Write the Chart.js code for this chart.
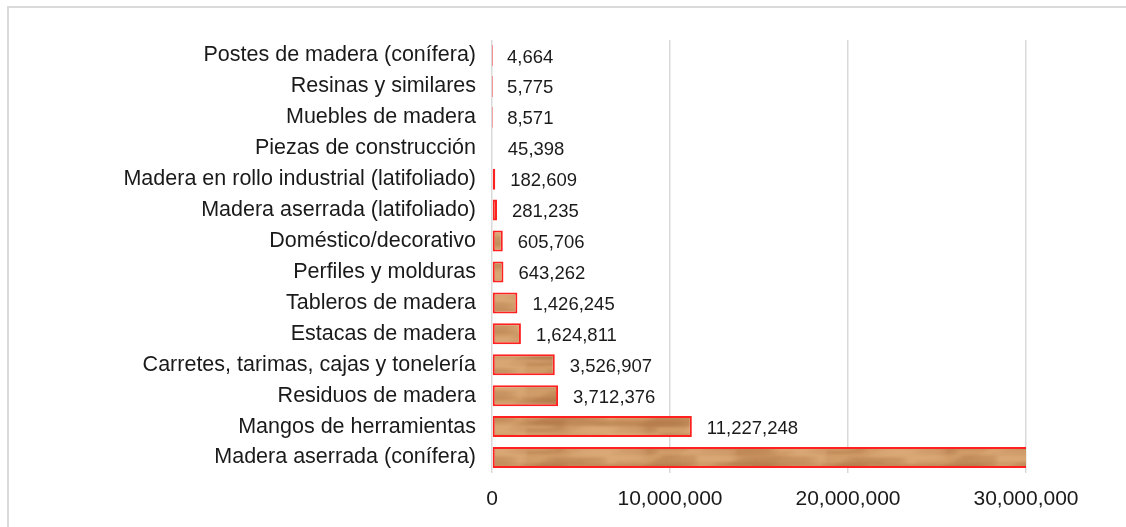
<!DOCTYPE html>
<html>
<head>
<meta charset="utf-8">
<script src="https://cdn.jsdelivr.net/npm/chart.js@4"></script>
<style>
  html, body { margin: 0; padding: 0; background: #fff; overflow: hidden; }
  #frame { position: absolute; left: 7px; top: 6px; width: 1200px; height: 600px; border: 2px solid #dadada; }
  #wrap { position: absolute; left: 0; top: 0; width: 1126px; height: 527px; }
</style>
</head>
<body>
<div id="frame"></div>
<div id="wrap"><canvas id="woodChart"></canvas></div>
<script>
const categories = [
    'Postes de madera (conífera)',
    'Resinas y similares',
    'Muebles de madera',
    'Piezas de construcción',
    'Madera en rollo industrial (latifoliado)',
    'Madera aserrada (latifoliado)',
    'Doméstico/decorativo',
    'Perfiles y molduras',
    'Tableros de madera',
    'Estacas de madera',
    'Carretes, tarimas, cajas y tonelería',
    'Residuos de madera',
    'Mangos de herramientas',
    'Madera aserrada (conífera)'
];
// the last bar runs past the axis end in the picture, its label is not shown
const values = [4664, 5775, 8571, 45398, 182609, 281235, 605706, 643262,
    1426245, 1624811, 3526907, 3712376, 11227248, 32500000];
const xTicks = [0, 10000000, 20000000, 30000000];

const textColor = '#1a1a1a';
const gridColor = '#d9d9d9';
const fontName = '"Liberation Sans", Arial, sans-serif';

// soft wood grain fill: blurred, stretched blotches (wrapped so the tile has no seam)
function woodPattern() {
    const c = document.createElement('canvas');
    c.width = 300; c.height = 22;
    const g = c.getContext('2d');
    g.fillStyle = '#d09c68';
    g.fillRect(0, 0, c.width, c.height);
    g.filter = 'blur(1.5px)';
    for (let k = 0; k < 40; k++) {
        const x = (k * 67) % c.width;
        const y = (k * 7) % c.height;
        const w = 18 + (k * 13) % 30;
        const dark = k % 3 !== 0;
        g.fillStyle = dark ? 'rgba(160, 100, 55, 0.35)' : 'rgba(232, 185, 135, 0.5)';
        for (const dx of [-c.width, 0, c.width]) {
            for (const dy of [-c.height, 0, c.height]) {
                g.beginPath();
                g.ellipse(x + dx, y + dy, w, 1.6, 0, 0, Math.PI * 2);
                g.fill();
            }
        }
    }
    return g.createPattern(c, 'repeat');
}

const valueLabels = {
    id: 'valueLabels',
    afterDatasetsDraw(chart) {
        const ctx = chart.ctx;
        const xs = chart.scales.x;
        const meta = chart.getDatasetMeta(0);
        ctx.save();
        ctx.font = '18.5px ' + fontName;
        ctx.fillStyle = textColor;
        ctx.textAlign = 'left';
        ctx.textBaseline = 'middle';
        meta.data.forEach((bar, i) => {
            const v = values[i];
            if (v > xs.max) return;
            ctx.fillText(v.toLocaleString('en-US'), bar.x + 15, bar.y + 2);
        });
        ctx.restore();
    }
};

new Chart(document.getElementById('woodChart'), {
    type: 'bar',
    data: {
        labels: categories,
        datasets: [{
            data: values,
            backgroundColor: woodPattern(),
            borderColor: '#ff2020',
            borderWidth: 2,
            borderSkipped: false,
            barPercentage: 0.68,
            categoryPercentage: 1
        }]
    },
    options: {
        indexAxis: 'y',
        responsive: true,
        maintainAspectRatio: false,
        animation: false,
        layout: { padding: { top: 40, right: 100, bottom: 0, left: 0 } },
        plugins: {
            legend: { display: false },
            tooltip: { enabled: false }
        },
        scales: {
            x: {
                min: 0,
                max: 30000000,
                afterBuildTicks: (s) => { s.ticks = xTicks.map(v => ({ value: v })); },
                afterFit: (s) => { s.height = 54; },
                border: { display: false },
                grid: { color: gridColor, lineWidth: 1.5, drawTicks: false },
                ticks: {
                    color: textColor,
                    padding: 14,
                    font: { family: fontName, size: 21 },
                    maxRotation: 0,
                    callback: (v) => v.toLocaleString('en-US')
                }
            },
            y: {
                afterFit: (s) => { s.width = 492; },
                border: { display: false },
                grid: { display: false, drawTicks: false },
                ticks: {
                    color: textColor,
                    padding: 16,
                    autoSkip: false,
                    font: { family: fontName, size: 21.5 }
                }
            }
        }
    },
    plugins: [valueLabels]
});
</script>
</body>
</html>
